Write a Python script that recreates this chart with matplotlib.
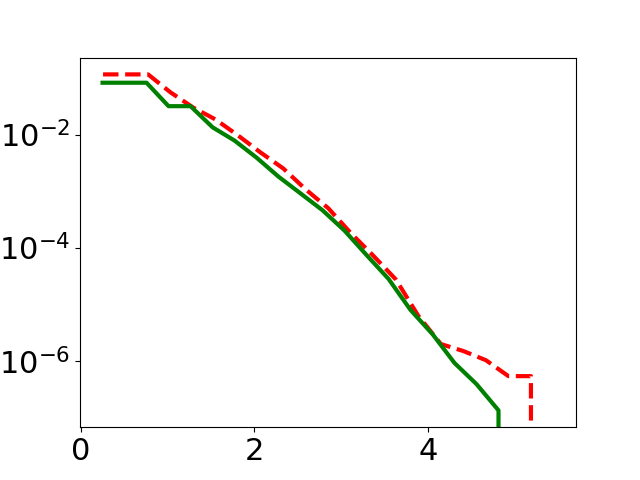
import numpy as np
import matplotlib
matplotlib.use('Agg')
import matplotlib.pyplot as plt

# red dashed series (last bin empty)
x_red = [0.259 * k for k in range(1, 22)]
y_red = [0.116, 0.116, 0.116, 0.0556, 0.0301, 0.01845, 0.0096, 0.0048,
         0.00252, 0.00107, 4.98e-4, 1.81e-4, 7.2e-5, 2.74e-5, 6.2e-6,
         1.97e-6, 1.48e-6, 1.02e-6, 5.33e-7, 5.33e-7, 0.0]

# green solid series (last bin empty)
x_green = [0.253 * k for k in range(1, 21)]
y_green = [0.0826, 0.0826, 0.0826, 0.0318, 0.0318, 0.01346, 0.00783, 0.00391,
           0.0018, 9.1e-4, 4.58e-4, 2.0e-4, 7.4e-5, 2.8e-5, 7.9e-6,
           2.95e-6, 9.1e-7, 3.85e-7, 1.32e-7, 0.0]

plt.rcParams['font.size'] = 22
fig = plt.figure(figsize=(6.4, 4.8), dpi=100)
plt.plot(x_red, y_red, 'r--', linewidth=3)
plt.plot(x_green, y_green, 'g-', linewidth=3)
plt.yscale('log')
plt.minorticks_off()
plt.savefig('out.png')
